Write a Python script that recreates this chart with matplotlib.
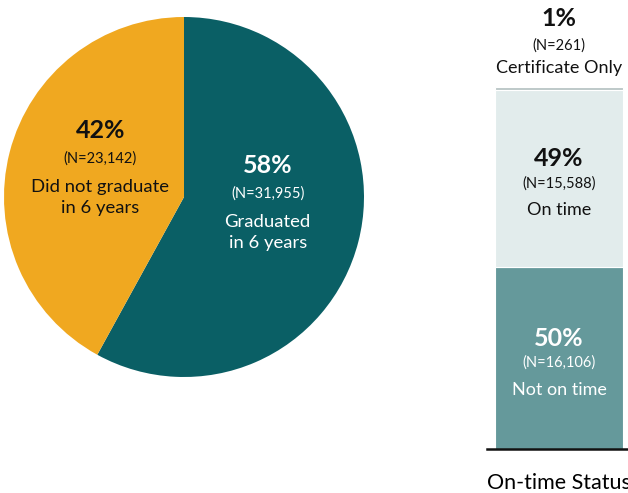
import matplotlib.pyplot as plt

# ---- Data -------------------------------------------------------------------
pie_labels = ["Graduated\nin 6 years", "Did not graduate\nin 6 years"]
pie_counts = [31955, 23142]
pie_pcts = ["58%", "42%"]

bar_labels = ["Not on time", "On time", "Certificate Only"]
bar_counts = [16106, 15588, 261]
bar_pcts = ["50%", "49%", "1%"]
bar_category = "On-time Status"

# ---- Style ------------------------------------------------------------------
plt.rcParams.update({"font.family": ["Lato", "DejaVu Sans"]})
pie_colors = ["#0a5f65", "#f0a820"]
pie_text = ["white", "#111111"]
bar_colors = ["#65999b", "#e2ecec", "#bcc7c7"]
bar_text = ["white", "#111111", "#111111"]
PCT_FS, N_FS = 18, 10.5

W, H = 628, 493
fig = plt.figure(figsize=(W / 100, H / 100), dpi=100)

# ---- Pie --------------------------------------------------------------------
cx, cy, r = 184, 197, 180
ax = fig.add_axes([(cx - r) / W, 1 - (cy + r) / H, 2 * r / W, 2 * r / H])
ax.pie(pie_counts, colors=pie_colors, startangle=90, counterclock=False,
       radius=1, wedgeprops=dict(linewidth=0))
ax.set_xlim(-1, 1)
ax.set_ylim(-1, 1)

# label block anchors (axes-data units, relative to the pie)
pie_pos = [(0.465, 0.003), (-0.465, 0.198)]
for (x, y), pct, n, lab, c in zip(pie_pos, pie_pcts, pie_counts, pie_labels, pie_text):
    ax.annotate(pct, (x, y), xytext=(0, 22), textcoords="offset points",
                ha="center", va="center", fontsize=PCT_FS, fontweight="bold", color=c)
    ax.annotate(f"(N={n:,})", (x, y), xytext=(0, 2), textcoords="offset points",
                ha="center", va="center", fontsize=N_FS, color=c)
    ax.annotate(lab, (x, y), xytext=(0, -26), textcoords="offset points",
                ha="center", va="center", fontsize=13.3, color=c,
                linespacing=1.4)

# ---- Stacked bar ------------------------------------------------------------
x0, x1, ytop, ybot = 487, 631, 87, 449
bx = fig.add_axes([x0 / W, 1 - ybot / H, (x1 - x0) / W, (ybot - ytop) / H])
bottom = 0
for n, col in zip(bar_counts, bar_colors):
    bx.bar(0.5, n, width=0.889, bottom=bottom, color=col,
           edgecolor="white", linewidth=0.8)
    bottom += n
bx.set_xlim(0, 1)
bx.set_ylim(0, sum(bar_counts))

# text inside the two big segments
bottom = 0
for n, pct, lab, c in zip(bar_counts[:2], bar_pcts[:2], bar_labels[:2], bar_text[:2]):
    mid = bottom + n / 2
    bx.annotate(pct, (0.5, mid), xytext=(0, 14), textcoords="offset points",
                ha="center", va="center", fontsize=PCT_FS, fontweight="bold", color=c)
    bx.annotate(f"(N={n:,})", (0.5, mid), xytext=(0, -3.5), textcoords="offset points",
                ha="center", va="center", fontsize=N_FS, color=c)
    bx.annotate(lab, (0.5, mid), xytext=(0, -23), textcoords="offset points",
                ha="center", va="center", fontsize=13, color=c)
    bottom += n

# text above the thin top segment
top = sum(bar_counts)
bx.annotate(bar_pcts[2], (0.5, top), xytext=(0, 49), textcoords="offset points",
            ha="center", va="center", fontsize=PCT_FS, fontweight="bold",
            color=bar_text[2], annotation_clip=False)
bx.annotate(f"(N={bar_counts[2]:,})", (0.5, top), xytext=(0, 29.8),
            textcoords="offset points", ha="center", va="center", fontsize=N_FS,
            color=bar_text[2], annotation_clip=False)
bx.annotate(bar_labels[2], (0.5, top), xytext=(0, 13.6), textcoords="offset points",
            ha="center", va="center", fontsize=13, color=bar_text[2],
            annotation_clip=False)

# category label: the reference crops it at the right edge, kept as is
bx.set_xticks([0.5])
bx.set_xticklabels([bar_category], fontsize=15.5)
bx.tick_params(axis="x", length=0, pad=17.5)
bx.set_yticks([])
bx.spines[["top", "right", "left"]].set_visible(False)
bx.spines["bottom"].set_linewidth(1.8)
bx.spines["bottom"].set_color("#111111")

fig.savefig("out.png", dpi=100)
